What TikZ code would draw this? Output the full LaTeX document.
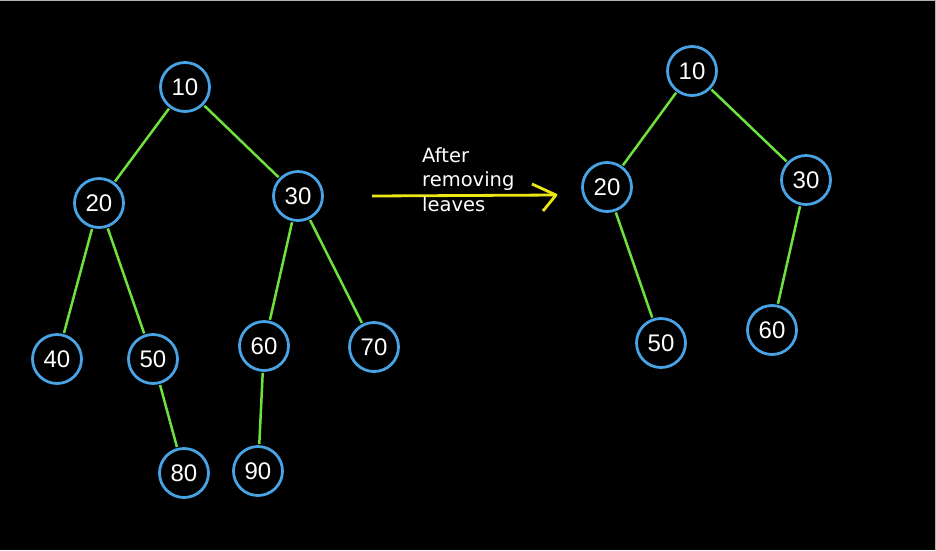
\documentclass[tikz,border=0pt]{standalone}
\usepackage{fontspec}
\setmainfont{DejaVu Sans}
\newfontfamily\digitfont{Liberation Sans}
\definecolor{nodeblue}{RGB}{72,162,228}
\definecolor{edgegreen}{RGB}{110,226,60}
\definecolor{arrowyellow}{RGB}{235,230,20}
\tikzset{
  tn/.style={circle, draw=nodeblue, line width=2.8pt, minimum size=49pt, inner sep=0pt,
    text=white, font=\digitfont\fontsize{24}{24}\selectfont},
  tedge/.style={draw=edgegreen, line width=2.5pt, shorten <=1pt, shorten >=1pt},
}
\begin{document}
\begin{tikzpicture}[x=1pt,y=-1pt]
\fill[black] (0,0) rectangle (936,550);
\useasboundingbox (0,0) rectangle (936,550);
\draw[gray!60, line width=0.8pt] (0,0.4) -- (935.6,0.4) -- (935.6,550);
% left tree
\node[tn] (a10) at (185,87) {10};
\node[tn] (a20) at (99,203) {20};
\node[tn] (a30) at (298,196) {30};
\node[tn] (a40) at (57,359) {40};
\node[tn] (a50) at (153,359) {50};
\node[tn] (a60) at (264,346) {60};
\node[tn] (a70) at (374,347) {70};
\node[tn] (a80) at (184,473) {80};
\node[tn] (a90) at (258,471) {90};
\draw[tedge] (a10) -- (a20);
\draw[tedge] (a10) -- (a30);
\draw[tedge] (a20) -- (a40);
\draw[tedge] (a20) -- (a50);
\draw[tedge] (a30) -- (a60);
\draw[tedge] (a30) -- (a70);
\draw[tedge] (a50) -- (a80);
\draw[tedge] (a60) -- (a90);
% right tree
\node[tn] (b10) at (692,71) {10};
\node[tn] (b20) at (607,187) {20};
\node[tn] (b30) at (806,180) {30};
\node[tn] (b50) at (661,343) {50};
\node[tn] (b60) at (772,330) {60};
\draw[tedge] (b10) -- (b20);
\draw[tedge] (b10) -- (b30);
\draw[tedge] (b20) -- (b50);
\draw[tedge] (b30) -- (b60);
% arrow
\coordinate (as) at (372,196);
\coordinate (ae) at (556,195);
\coordinate (ah1) at (532,184);
\coordinate (ah2) at (543,211);
\draw[arrowyellow, line width=2.8pt] (as) -- (ae);
\draw[arrowyellow, line width=2.8pt, line join=round] (ah1) -- (ae) -- (ah2);
\node[text=white, font=\fontsize{19.5}{24.5}\selectfont, align=left, anchor=north west, inner sep=0pt] (lbl) at (422,147) {After\\removing\\leaves};
\end{tikzpicture}
\end{document}
